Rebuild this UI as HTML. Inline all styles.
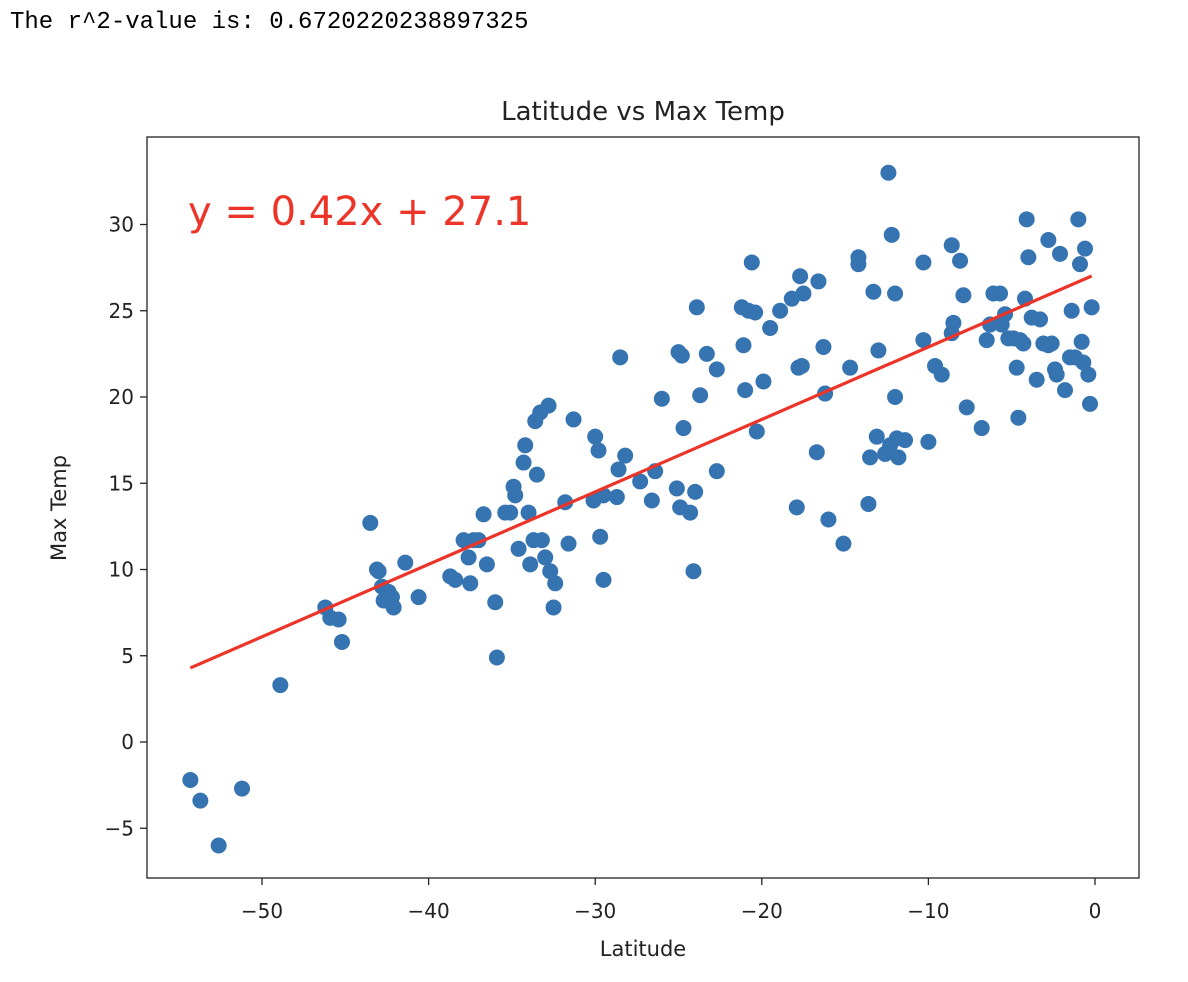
<!DOCTYPE html>
<html><head><meta charset="utf-8"><style>
body{margin:0;background:#fff;width:1188px;height:982px;overflow:hidden}
pre{position:absolute;left:10px;top:9px;margin:0;font:24px "Liberation Mono",monospace;color:#000}
svg{position:absolute;left:0;top:0}
text{font-family:"DejaVu Sans","Liberation Sans",sans-serif;fill:#222}
</style></head><body>
<pre>The r^2-value is: 0.6720220238897325</pre>
<svg id="chart" width="1188" height="982"></svg>
<script>
const lats=[-54.3,-53.7,-52.6,-51.2,-48.9,-46.2,-45.9,-45.4,-45.2,-43.5,-43.1,-43.0,-42.8,-42.7,-42.4,-42.2,-42.1,-41.4,-40.6,-38.7,-38.4,-37.9,-37.6,-37.5,-37.3,-37.0,-36.7,-36.5,-36.0,-35.9,-35.4,-35.1,-34.9,-34.8,-34.6,-34.3,-34.2,-34.0,-33.9,-33.7,-33.6,-33.5,-33.3,-33.2,-33.0,-32.8,-32.7,-32.5,-32.4,-31.8,-31.6,-31.3,-30.1,-30.0,-29.8,-29.7,-29.5,-29.5,-28.7,-28.6,-28.5,-28.2,-27.3,-26.6,-26.4,-26.0,-25.1,-25.0,-24.9,-24.8,-24.7,-24.3,-24.1,-24.0,-23.9,-23.7,-23.3,-22.7,-22.7,-21.2,-21.1,-21.0,-20.8,-20.6,-20.4,-20.3,-19.9,-19.5,-18.9,-18.2,-17.9,-17.8,-17.7,-17.6,-17.5,-16.6,-16.7,-16.3,-16.2,-16.0,-15.1,-14.7,-14.2,-14.2,-13.6,-13.5,-13.3,-13.1,-13.0,-12.6,-12.4,-12.3,-12.2,-12.0,-12.0,-11.9,-11.8,-11.4,-10.3,-10.3,-10.0,-9.6,-9.2,-8.6,-8.6,-8.5,-8.1,-7.9,-7.7,-6.8,-6.5,-6.3,-6.1,-5.7,-5.6,-5.4,-5.2,-4.9,-4.7,-4.6,-4.5,-4.3,-4.2,-4.1,-4.0,-3.8,-3.5,-3.3,-3.1,-2.8,-2.8,-2.6,-2.4,-2.3,-2.1,-1.8,-1.5,-1.4,-1.2,-1.0,-0.9,-0.8,-0.6,-0.4,-0.3,-0.2,-0.7];
const temps=[-2.2,-3.4,-6.0,-2.7,3.3,7.8,7.2,7.1,5.8,12.7,10.0,9.9,9.0,8.2,8.7,8.4,7.8,10.4,8.4,9.6,9.4,11.7,10.7,9.2,11.7,11.7,13.2,10.3,8.1,4.9,13.3,13.3,14.8,14.3,11.2,16.2,17.2,13.3,10.3,11.7,18.6,15.5,19.1,11.7,10.7,19.5,9.9,7.8,9.2,13.9,11.5,18.7,14.0,17.7,16.9,11.9,14.3,9.4,14.2,15.8,22.3,16.6,15.1,14.0,15.7,19.9,14.7,22.6,13.6,22.4,18.2,13.3,9.9,14.5,25.2,20.1,22.5,21.6,15.7,25.2,23.0,20.4,25.0,27.8,24.9,18.0,20.9,24.0,25.0,25.7,13.6,21.7,27.0,21.8,26.0,26.7,16.8,22.9,20.2,12.9,11.5,21.7,28.1,27.7,13.8,16.5,26.1,17.7,22.7,16.7,33.0,17.2,29.4,26.0,20.0,17.6,16.5,17.5,27.8,23.3,17.4,21.8,21.3,23.7,28.8,24.3,27.9,25.9,19.4,18.2,23.3,24.2,26.0,26.0,24.2,24.8,23.4,23.4,21.7,18.8,23.3,23.1,25.7,30.3,28.1,24.6,21.0,24.5,23.1,23.0,29.1,23.1,21.6,21.3,28.3,20.4,22.3,25.0,22.3,30.3,27.7,23.2,28.6,21.3,19.6,25.2,22.0];
const xTicks=[-50,-40,-30,-20,-10,0];
const yTicks=[-5,0,5,10,15,20,25,30];
const slope=0.42, intercept=27.1;
const X=v=>1095+v*16.66, Y=v=>742-v*17.25;
const svg=document.getElementById('chart');const NS='http://www.w3.org/2000/svg';
function mk(t,a,p){const e=document.createElementNS(NS,t);for(const k in a)e.setAttribute(k,a[k]);(p||svg).appendChild(e);return e;}
let t=mk('text',{x:643,y:120,'text-anchor':'middle','font-size':26});t.textContent='Latitude vs Max Temp';


xTicks.forEach(v=>{mk('line',{x1:X(v),x2:X(v),y1:878,y2:885,stroke:'#222','stroke-width':1.3});
 const l=mk('text',{x:X(v),y:918,'text-anchor':'middle','font-size':20});l.textContent=v<0?'\u2212'+(-v):v;
 
 });
yTicks.forEach(v=>{mk('line',{x1:140,x2:147,y1:Y(v),y2:Y(v),stroke:'#222','stroke-width':1.3});
 const l=mk('text',{x:134,y:Y(v)+7,'text-anchor':'end','font-size':20});l.textContent=v<0?'\u2212'+(-v):v;
 
 });
t=mk('text',{x:643,y:956,'text-anchor':'middle','font-size':21});t.textContent='Latitude';


t=mk('text',{x:66,y:508,'text-anchor':'middle','font-size':21,transform:'rotate(-90 66 508)'});t.textContent='Max Temp';


lats.forEach((v,i)=>{const c=mk('circle',{cx:X(v),cy:Y(temps[i]),r:8,fill:'#3674b1'});
 
 });
const x0=Math.min(...lats),x1=Math.max(...lats);
const ln=mk('line',{x1:X(x0),y1:Y(slope*x0+intercept),x2:X(x1),y2:Y(slope*x1+intercept),stroke:'#ec3428','stroke-width':3.2});


t=mk('text',{x:188,y:225,'font-size':40,style:'fill:#ec3428'});t.textContent='y = 0.42x + 27.1';


const fr=mk('rect',{x:147,y:137,width:992,height:741,fill:'none',stroke:'#222','stroke-width':1.3});


</script>
</body></html>
